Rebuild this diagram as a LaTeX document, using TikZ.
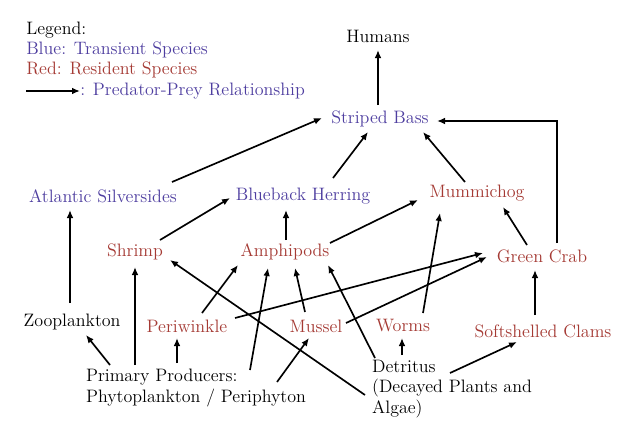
\documentclass[tikz,border=0pt]{standalone}
\usepackage{tikz}
\usetikzlibrary{arrows.meta}
\tikzset{every node/.style={font=\fontsize{13.5}{15.5}\selectfont}}
\definecolor{transcol}{RGB}{78,62,160}
\definecolor{rescol}{RGB}{165,58,52}
\colorlet{othercol}{black}
\colorlet{linkcol}{black}
\tikzset{
  transient/.style={text=transcol},
  resident/.style={text=rescol},
  source/.style={text=othercol, align=left},
  eats/.style={-{Latex[length=6pt,width=5pt]}, line width=1.25pt, linkcol},
}

\begin{document}
\begin{tikzpicture}[x=0.75pt, y=-0.75pt]

  % Page frame.
  \fill[white] (0,0) rectangle (624,429);
  \useasboundingbox (0,0) rectangle (624,429);

  % Legend.
  \node[anchor=west, inner sep=0pt, text=othercol] (leghead) at (26,30) {Legend:};
  \node[anchor=west, inner sep=0pt, transient] (legblue) at (26,50) {Blue: Transient Species};
  \node[anchor=west, inner sep=0pt, resident] (legred) at (26,70) {Red: Resident Species};
  \coordinate (legtail) at (26,91);
  \node[anchor=west, inner sep=0pt, transient] (legrel) at (80,91) {: Predator-Prey Relationship};
  \draw[eats] (legtail) -- (legrel.west);

  % Top predators.
  \node[text=othercol] (humans) at (378,36) {Humans};
  \node[transient] (bass) at (380,119) {Striped Bass};

  % Fish.
  \node[transient] (silver) at (103,196) {Atlantic Silversides};
  \node[transient] (herring) at (303,196) {Blueback Herring};
  \node[resident] (mummi) at (477,193) {Mummichog};

  % Invertebrates.
  \node[resident] (shrimp) at (135,252) {Shrimp};
  \node[resident] (amphi) at (285,252) {Amphipods};
  \node[resident] (crab) at (542,256) {Green Crab};
  \node[text=othercol] (zoo) at (72,322) {Zooplankton};
  \node[resident] (peri) at (187,326) {Periwinkle};
  \node[resident] (mussel) at (316,326) {Mussel};
  \node[resident] (worms) at (403,326) {Worms};
  \node[resident] (clams) at (543,331) {Softshelled Clams};

  % Base of the web.
  \node[source] (prod) at (196,388) {Primary Producers:\\Phytoplankton / Periphyton};
  \node[source] (detr) at (452,389) {Detritus\\(Decayed Plants and\\Algae)};

  % Links into striped bass and humans.
  \draw[eats] ([shift={(-2,-14)}]bass.center) -- ([shift={(0,14)}]humans.center);
  \draw[eats] ([shift={(69,-14)}]silver.center) -- ([shift={(-58,-1)}]bass.center);
  \draw[eats] ([shift={(30,-18)}]herring.center) -- ([shift={(-12,13)}]bass.center);
  \draw[eats] ([shift={(-12,-11)}]mummi.center) -- ([shift={(43,13)}]bass.center);
  \draw[eats] ([shift={(15,-13)}]crab.center) |- ([shift={(57,2)}]bass.center);

  % Links into the fish.
  \draw[eats] ([shift={(-2,-19)}]zoo.center) -- ([shift={(-33,14)}]silver.center);
  \draw[eats] ([shift={(25,-12)}]shrimp.center) -- ([shift={(-73,2)}]herring.center);
  \draw[eats] ([shift={(1,-12)}]amphi.center) -- ([shift={(-17,14)}]herring.center);
  \draw[eats] ([shift={(45,-9)}]amphi.center) -- ([shift={(-59,7)}]mummi.center);
  \draw[eats] ([shift={(20,-13)}]worms.center) -- ([shift={(-37,20)}]mummi.center);
  \draw[eats] ([shift={(-15,-11)}]crab.center) -- ([shift={(26,14)}]mummi.center);

  % Links from primary producers.
  \draw[eats] ([shift={(-86,-23)}]prod.center) -- ([shift={(14,13)}]zoo.center);
  \draw[eats] ([shift={(-61,-23)}]prod.center) -- ([shift={(0,15)}]shrimp.center);
  \draw[eats] ([shift={(-19,-25)}]prod.center) -- ([shift={(-10,12)}]peri.center);
  \draw[eats] ([shift={(54,-18)}]prod.center) -- ([shift={(-17,16)}]amphi.center);
  \draw[eats] ([shift={(81,-6)}]prod.center) -- ([shift={(-7,12)}]mussel.center);

  % Links between invertebrates.
  \draw[eats] ([shift={(15,-13)}]peri.center) -- ([shift={(-47,13)}]amphi.center);
  \draw[eats] ([shift={(-11,-14)}]mussel.center) -- ([shift={(10,16)}]amphi.center);
  \draw[eats] ([shift={(48,-8)}]peri.center) -- ([shift={(-59,-3)}]crab.center);
  \draw[eats] ([shift={(30,-3)}]mussel.center) -- ([shift={(-55,1)}]crab.center);
  \draw[eats] ([shift={(-8,-16)}]clams.center) -- ([shift={(-7,14)}]crab.center);

  % Links from detritus.
  \draw[eats] ([shift={(-87,6)}]detr.center) -- ([shift={(35,8)}]shrimp.center);
  \draw[eats] ([shift={(-77,-31)}]detr.center) -- ([shift={(43,13)}]amphi.center);
  \draw[eats] ([shift={(-50,-34)}]detr.center) -- ([shift={(-1,12)}]worms.center);
  \draw[eats] ([shift={(-2,-16)}]detr.center) -- ([shift={(-26,11)}]clams.center);

\end{tikzpicture}
\end{document}
